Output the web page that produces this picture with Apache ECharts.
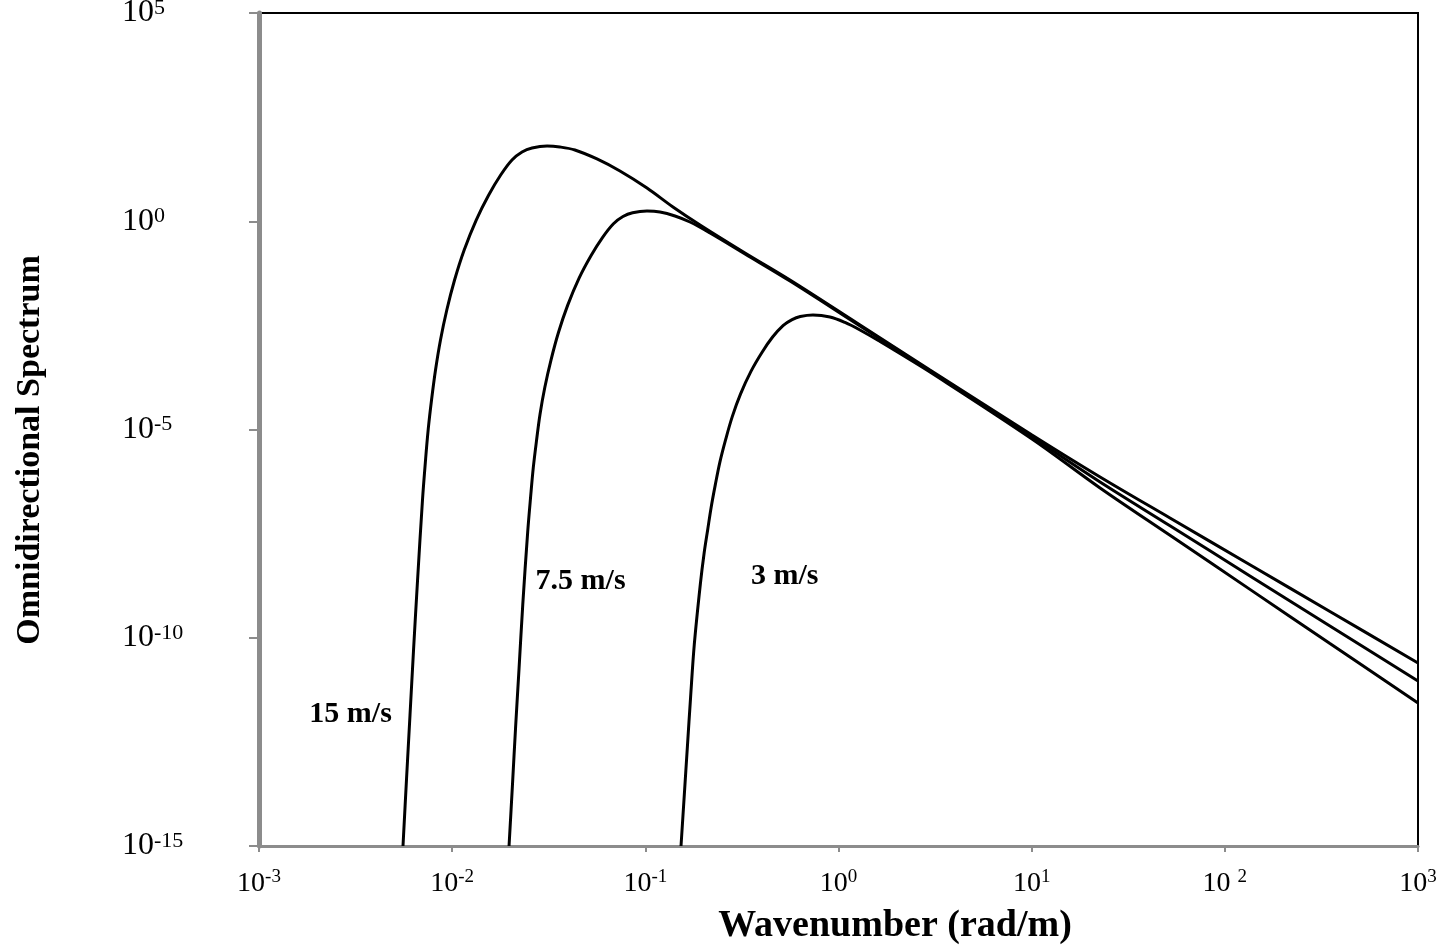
<!DOCTYPE html>
<html><head><meta charset="utf-8">
<script src="https://cdn.jsdelivr.net/npm/echarts@6/dist/echarts.min.js"></script>
<style>html,body{margin:0;padding:0;background:#fff}#c{width:1447px;height:945px}</style>
</head><body><div id="c"></div>
<script>
// Wavenumber k (rad/m) and omnidirectional spectrum S
const k15 = [5.565e-3,5.80e-3,6.05e-3,6.31e-3,6.62e-3,7.02e-3,7.28e-3,7.52e-3,7.82e-3,8.20e-3,8.70e-3,9.38e-3,1.029e-2,1.154e-2,1.332e-2,1.546e-2,1.783e-2,2.04e-2,2.30e-2,2.59e-2,3.10e-2,3.61e-2,4.32e-2,5.62e-2,7.39e-2,0.1020,0.1390,0.1919,0.3281,0.561,1.246,2.976,10.04,22.6,52.0,134.9,350,1000];
const s15 = [1e-15,3.84e-14,1.40e-12,5.08e-11,2.44e-9,2.03e-7,1.85e-6,1.03e-5,5.10e-5,2.68e-4,1.41e-3,7.40e-3,3.88e-2,0.204,1.07,4.27,12.9,29.6,46.0,57.4,64.1,60.7,51.4,31.3,16.1,6.28,2.20,0.813,0.173,3.88e-2,3.61e-3,2.68e-4,7.38e-6,7.24e-7,7.50e-8,5.68e-9,4.27e-10,2.48e-11];

const k75 = [1.97e-2,2.05e-2,2.13e-2,2.22e-2,2.32e-2,2.46e-2,2.55e-2,2.63e-2,2.73e-2,2.85e-2,3.02e-2,3.25e-2,3.55e-2,3.96e-2,4.54e-2,5.24e-2,6.01e-2,6.84e-2,7.66e-2,8.59e-2,0.1020,0.1191,0.1424,0.1703,0.2162,0.3281,0.561,1.246,2.976,10.04,22.6,52.0,134.9,350,1000];
const s75 = [1e-15,2.74e-14,7.11e-13,1.86e-11,6.22e-10,3.44e-8,2.54e-7,1.21e-6,5.18e-6,2.33e-5,1.05e-4,4.71e-4,2.13e-3,9.55e-3,4.32e-2,0.151,0.412,0.873,1.30,1.60,1.76,1.67,1.34,0.959,0.522,0.164,3.67e-2,3.41e-3,2.54e-4,6.61e-6,5.50e-7,4.88e-8,3.05e-9,1.91e-10,9.16e-12];

const k3 = [0.1530,0.1590,0.1651,0.1715,0.1793,0.1928,0.2015,0.2103,0.2190,0.2302,0.2432,0.2606,0.2819,0.3112,0.3527,0.4022,0.4558,0.5161,0.5752,0.6341,0.7377,0.9035,1.080,1.292,1.640,2.081,2.976,10.04,22.6,52.0,134.9,350,1000];
const s3 = [1e-15,1.60e-14,2.44e-13,3.72e-12,7.00e-11,2.01e-9,1.07e-8,3.93e-8,1.33e-7,4.68e-7,1.65e-6,5.79e-6,2.04e-5,7.16e-5,2.52e-4,7.18e-4,1.66e-3,3.13e-3,4.36e-3,5.16e-3,5.61e-3,5.02e-3,3.71e-3,2.45e-3,1.30e-3,6.68e-4,2.40e-4,5.92e-6,3.94e-7,2.88e-8,1.45e-9,7.28e-11,2.71e-12];

const seriesNames = ['15 m/s','7.5 m/s','3 m/s'];
const labelK = [2.98e-3, 4.62e-2, 0.527];
const labelS = [1.42e-12, 2.33e-9, 3.07e-9];

const zip = (a,b) => a.map((v,i)=>[v,b[i]]);
const serif = '"Liberation Serif","Times New Roman",serif';
const GRAY = '#8c8c8c';

function supLabel(v){
  const e = Math.round(Math.log10(v));
  return '{b|10' + (e===2 ? ' ' : '') + '}{s|' + e + '}';
}

const chart = echarts.init(document.getElementById('c'), null, {renderer:'canvas'});
const lineSeries = (name, data) => ({
  name, type:'line', data, showSymbol:false, smooth:0.35,
  clip:true, lineStyle:{color:'#000', width:3}, silent:true, z:3
});

chart.setOption({
  backgroundColor:'#fff',
  animation:false,
  grid:{left:259, right:29, top:13, bottom:99, outerBoundsMode:'none', containLabel:false,
        show:true, borderColor:'#000', borderWidth:2, backgroundColor:'transparent'},
  xAxis:{
    type:'log', logBase:10, min:1e-3, max:1e3, interval:1,
    axisLine:{show:true, lineStyle:{color:GRAY, width:3}},
    axisTick:{show:true, length:6, lineStyle:{color:GRAY, width:2}},
    splitLine:{show:false}, minorTick:{show:false},
    axisLabel:{
      margin:22, formatter:v=>supLabel(v),
      rich:{
        b:{fontFamily:serif, fontSize:28, color:'#000', lineHeight:30, verticalAlign:'bottom'},
        s:{fontFamily:serif, fontSize:19, color:'#000', lineHeight:19, verticalAlign:'top'}
      }
    }
  },
  yAxis:{
    type:'log', logBase:10, min:1e-15, max:1e5, interval:5,
    axisLine:{show:true, lineStyle:{color:GRAY, width:5}},
    axisTick:{show:true, length:10, lineStyle:{color:GRAY, width:2}},
    splitLine:{show:false}, minorTick:{show:false},
    axisLabel:{
      margin:137, align:'left', formatter:v=>supLabel(v),
      rich:{
        b:{fontFamily:serif, fontSize:32, color:'#000', lineHeight:32, verticalAlign:'bottom'},
        s:{fontFamily:serif, fontSize:22, color:'#000', lineHeight:22, verticalAlign:'top'}
      }
    }
  },
  graphic:[
    {type:'text', x:895, y:926, style:{text:'Wavenumber (rad/m)', fontFamily:serif, fontWeight:'bold', fontSize:38, fill:'#000', align:'center', verticalAlign:'middle'}},
    {type:'text', rotation:Math.PI/2, x:30, y:450, style:{text:'Omnidirectional Spectrum', fontFamily:serif, fontWeight:'bold', fontSize:34, fill:'#000', align:'center', verticalAlign:'middle'}}
  ],
  series:[
    lineSeries(seriesNames[0], zip(k15,s15)),
    lineSeries(seriesNames[1], zip(k75,s75)),
    lineSeries(seriesNames[2], zip(k3,s3)),
    {
      type:'scatter', symbolSize:0, silent:true, z:4,
      data: labelK.map((k,i)=>({value:[k,labelS[i]], name:seriesNames[i]})),
      itemStyle:{opacity:1, color:'#000'},
      label:{show:true, position:'inside', formatter:p=>p.name, fontFamily:serif, fontWeight:'bold', fontSize:30, color:'#000', textBorderWidth:0, opacity:1}
    }
  ]
});
</script></body></html>
